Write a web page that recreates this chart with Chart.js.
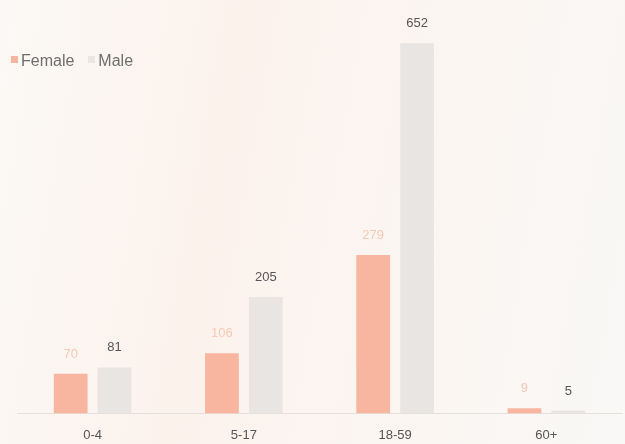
<!DOCTYPE html>
<html>
<head>
<meta charset="utf-8">
<script src="https://cdn.jsdelivr.net/npm/chart.js@4"></script>
<style>
  html, body { margin: 0; padding: 0; }
  body {
    width: 625px; height: 444px; overflow: hidden; position: relative;
    background: linear-gradient(100deg, #fbf9f6 0%, #fcf2ec 35%, #fbf5f1 60%, #f9f8f6 100%);
    font-family: "Liberation Sans", Arial, sans-serif;
  }
  #wrap { position: absolute; left: 0; top: 0; width: 625px; height: 444px; }
  .legend { position: absolute; left: 11px; top: 52px; font-size: 16px; color: #6e6e6e; display: flex; gap: 14px; }
  .legend span.sw { display: inline-block; width: 7px; height: 7px; margin-right: 3px; vertical-align: 3px; }
</style>
</head>
<body>
<div id="wrap"><canvas id="c" width="625" height="444"></canvas></div>
<div class="legend">
  <div><span class="sw" style="background:#f7b5a0"></span>Female</div>
  <div><span class="sw" style="background:#e9e6e3"></span>Male</div>
</div>
<script>
const categories = ['0-4', '5-17', '18-59', '60+'];
const female = [70, 106, 279, 9];
const male = [81, 205, 652, 5];

const femaleColor = '#f8b6a0';
const maleColor = '#e8e5e2';

// value labels above each bar
const valueLabels = {
  id: 'valueLabels',
  afterDatasetsDraw(chart) {
    const ctx = chart.ctx;
    ctx.save();
    ctx.font = '13px "Liberation Sans", Arial, sans-serif';
    ctx.textAlign = 'center';
    ctx.textBaseline = 'bottom';
    chart.data.datasets.forEach((ds, i) => {
      const meta = chart.getDatasetMeta(i);
      ctx.fillStyle = i === 0 ? '#f6c9b8' : '#555555';
      meta.data.forEach((bar, j) => {
        ctx.fillText(ds.data[j], bar.x, bar.y - 13);
      });
    });
    ctx.restore();
  }
};

new Chart(document.getElementById('c'), {
  type: 'bar',
  data: {
    labels: categories,
    datasets: [
      { label: 'Female', data: female, backgroundColor: femaleColor },
      { label: 'Male', data: male, backgroundColor: maleColor }
    ]
  },
  options: {
    responsive: false,
    animation: false,
    layout: { padding: { left: 17, right: 3, top: 16, bottom: -5 } },
    datasets: { bar: { categoryPercentage: 0.58, barPercentage: 0.77 } },
    plugins: { legend: { display: false }, tooltip: { enabled: false } },
    scales: {
      x: {
        grid: { display: false },
        border: { display: true, color: '#e4e0dc', width: 1 },
        ticks: { color: '#555', font: { size: 13, family: '"Liberation Sans", Arial, sans-serif' }, padding: 6 }
      },
      y: { display: false, min: 0, max: 700 }
    }
  },
  plugins: [valueLabels]
});
</script>
</body>
</html>
